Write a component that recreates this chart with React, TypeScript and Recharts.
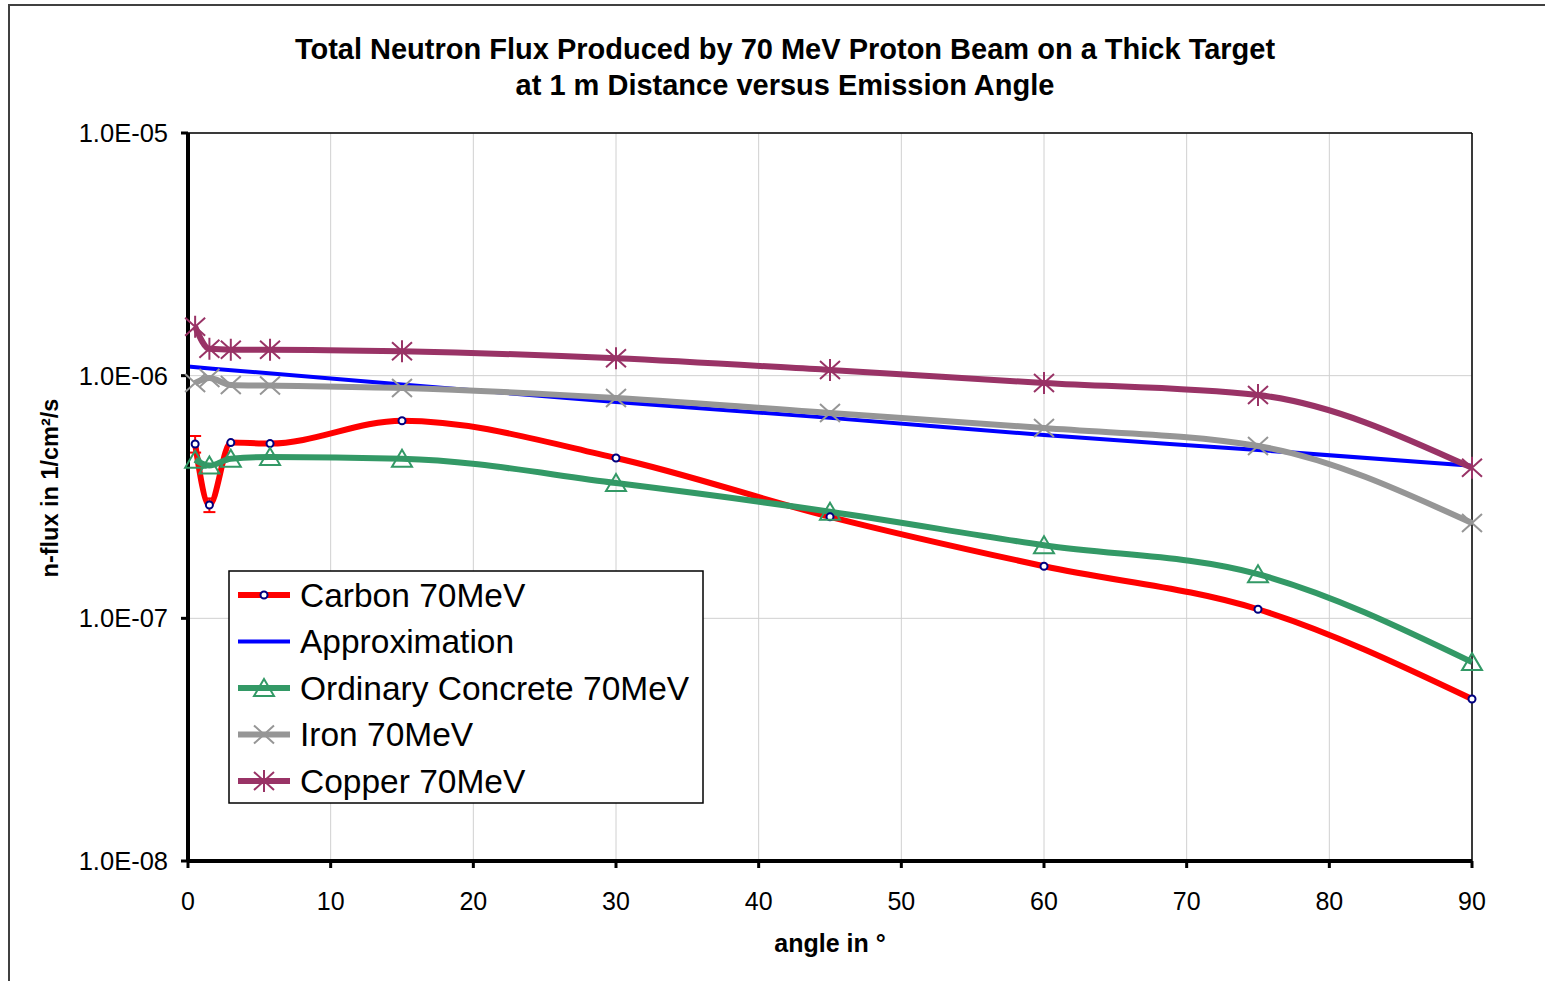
import React from 'react'
import {
  LineChart,
  Line,
  XAxis,
  YAxis,
  CartesianGrid,
  ErrorBar,
  ReferenceLine,
} from 'recharts'

const angles = [0.5, 1.5, 3, 5.75, 15, 30, 45, 60, 75, 90]
const carbon = [5.23e-7, 2.93e-7, 5.3e-7, 5.25e-7, 6.52e-7, 4.58e-7, 2.62e-7, 1.64e-7, 1.09e-7, 4.65e-8]
const carbonErr = [4.1e-8, 1.9e-8, 0, 0, 0, 0, 0, 0, 0, 0]
const concrete = [4.5e-7, 4.26e-7, 4.55e-7, 4.62e-7, 4.55e-7, 3.61e-7, 2.75e-7, 2.0e-7, 1.52e-7, 6.6e-8]
const iron = [9.33e-7, 9.78e-7, 9.16e-7, 9.1e-7, 8.89e-7, 8.09e-7, 7.02e-7, 6.08e-7, 5.13e-7, 2.47e-7]
const copper = [1.59e-6, 1.29e-6, 1.28e-6, 1.28e-6, 1.26e-6, 1.18e-6, 1.055e-6, 9.33e-7, 8.32e-7, 4.17e-7]

const approxAngles = [0, 15, 30, 45, 60, 75, 90]
const approx = [1.09e-6, 9.2e-7, 7.79e-7, 6.7e-7, 5.69e-7, 4.94e-7, 4.25e-7]

const xTicks = [0, 10, 20, 30, 40, 50, 60, 70, 80, 90]
const yTicks = [1e-8, 1e-7, 1e-6, 1e-5]

const FONT = '"Liberation Sans", Arial, sans-serif'

const C_RED = '#FF0000'
const C_BLUE = '#0000FF'
const C_GREEN = '#339966'
const C_GRAY = '#969696'
const C_PURPLE = '#993366'

const measured = angles.map((a, i) => ({
  x: a,
  carbon: carbon[i],
  err: carbonErr[i],
  concrete: concrete[i],
  iron: iron[i],
  copper: copper[i],
}))
const approxData = approxAngles.map((a, i) => ({ x: a, approx: approx[i] }))

const fmtExp = (v: number) => {
  const e = Math.round(Math.log10(v))
  const s = Math.abs(e).toString().padStart(2, '0')
  return `1.0E${e < 0 ? '-' : '+'}${s}`
}

// marker shapes
const Circle = ({ cx, cy }: { cx: number; cy: number }) => (
  <circle cx={cx} cy={cy} r={3.5} fill="#fff" stroke="#000080" strokeWidth={2} />
)
const Triangle = ({ cx, cy }: { cx: number; cy: number }) => (
  <path d={`M${cx},${cy - 9} L${cx + 10},${cy + 8} L${cx - 10},${cy + 8} Z`} fill="none" stroke={C_GREEN} strokeWidth={2} />
)
const Cross = ({ cx, cy }: { cx: number; cy: number }) => (
  <path d={`M${cx - 10},${cy - 9} L${cx + 10},${cy + 9} M${cx + 10},${cy - 9} L${cx - 10},${cy + 9}`} stroke={C_GRAY} strokeWidth={2} />
)
const Star = ({ cx, cy }: { cx: number; cy: number }) => (
  <path
    d={`M${cx - 10},${cy - 9} L${cx + 10},${cy + 9} M${cx + 10},${cy - 9} L${cx - 10},${cy + 9} M${cx},${cy - 11} L${cx},${cy + 11}`}
    stroke={C_PURPLE}
    strokeWidth={2}
  />
)

const dotOf = (Shape: React.FC<{ cx: number; cy: number }>) => (p: any) =>
  p.cx == null || p.cy == null ? <g key={p.index} /> : (
    <g key={p.index}>
      <Shape cx={p.cx} cy={p.cy} />
    </g>
  )

const legendItems = [
  { name: 'Carbon 70MeV', color: C_RED, width: 6, Shape: Circle },
  { name: 'Approximation', color: C_BLUE, width: 4, Shape: null },
  { name: 'Ordinary Concrete 70MeV', color: C_GREEN, width: 6, Shape: Triangle },
  { name: 'Iron 70MeV', color: C_GRAY, width: 6, Shape: Cross },
  { name: 'Copper 70MeV', color: C_PURPLE, width: 6, Shape: Star },
]

function LegendBox() {
  return (
    <svg width={476} height={234} style={{ position: 'absolute', left: 228, top: 570 }}>
      <rect x={1} y={1} width={474} height={232} fill="#fff" stroke="#000" strokeWidth={1.5} />
      {legendItems.map((it, i) => {
        const y = 25 + i * 46.5
        const S = it.Shape
        return (
          <g key={it.name}>
            <line x1={10} x2={62} y1={y} y2={y} stroke={it.color} strokeWidth={it.width} />
            {S && <S cx={36} cy={y} />}
            <text x={72} y={y} dominantBaseline="central" fontFamily={FONT} fontSize={33.5} fill="#000">
              {it.name}
            </text>
          </g>
        )
      })}
    </svg>
  )
}

export default function App() {
  return (
    <div
      style={{
        position: 'absolute',
        left: 0,
        top: 0,
        width: 1545,
        height: 981,
        overflow: 'hidden',
        background: '#fff',
        fontFamily: FONT,
      }}
    >
      <div
        style={{
          position: 'absolute',
          left: 8,
          top: 4,
          width: 1537,
          height: 977,
          borderTop: '2px solid #404040',
          borderLeft: '2px solid #404040',
        }}
      />
      <div
        style={{
          position: 'absolute',
          left: 185,
          width: 1200,
          top: 31,
          textAlign: 'center',
          fontWeight: 'bold',
          fontSize: 29,
          lineHeight: '36px',
          color: '#000',
        }}
      >
        Total Neutron Flux Produced by 70 MeV Proton Beam on a Thick Target
        <br />
        at 1 m Distance versus Emission Angle
      </div>

      <LineChart
        width={1545}
        height={981}
        margin={{ top: 133, right: 73, left: 88, bottom: 80 }}
        style={{ position: 'absolute', left: 0, top: 0 }}
      >
        <CartesianGrid stroke="#d0d0d0" strokeWidth={1} />
        <XAxis
          type="number"
          dataKey="x"
          domain={[0, 90]}
          ticks={xTicks}
          interval={0}
          height={40}
          axisLine={{ stroke: '#000', strokeWidth: 4 }}
          tickLine={{ stroke: '#000', strokeWidth: 3 }}
          tickSize={7}
          tickMargin={24}
          tick={{ fill: '#000', fontSize: 25, fontFamily: FONT }}
        />
        <YAxis
          scale="log"
          domain={[1e-8, 1e-5]}
          ticks={yTicks}
          interval={0}
          width={100}
          tickFormatter={fmtExp}
          axisLine={{ stroke: '#000', strokeWidth: 4 }}
          tickLine={{ stroke: '#000', strokeWidth: 3 }}
          tickSize={7}
          tickMargin={13}
          tick={{ fill: '#000', fontSize: 25.5, fontFamily: FONT }}
        />
        <ReferenceLine y={1e-5} stroke="#000" strokeWidth={1.5} />
        <ReferenceLine x={90} stroke="#000" strokeWidth={1.5} />

        <Line
          data={measured}
          dataKey="carbon"
          type="monotone"
          stroke={C_RED}
          strokeWidth={6}
          dot={dotOf(Circle)}
          activeDot={false}
          isAnimationActive={false}
        >
          <ErrorBar dataKey="err" direction="y" width={6} stroke={C_RED} strokeWidth={2} isAnimationActive={false} />
        </Line>
        <Line
          data={approxData}
          dataKey="approx"
          type="monotone"
          stroke={C_BLUE}
          strokeWidth={4}
          dot={false}
          activeDot={false}
          isAnimationActive={false}
        />
        <Line
          data={measured}
          dataKey="concrete"
          type="monotone"
          stroke={C_GREEN}
          strokeWidth={6}
          dot={dotOf(Triangle)}
          activeDot={false}
          isAnimationActive={false}
        />
        <Line
          data={measured}
          dataKey="iron"
          type="monotone"
          stroke={C_GRAY}
          strokeWidth={6}
          dot={dotOf(Cross)}
          activeDot={false}
          isAnimationActive={false}
        />
        <Line
          data={measured}
          dataKey="copper"
          type="monotone"
          stroke={C_PURPLE}
          strokeWidth={6}
          dot={dotOf(Star)}
          activeDot={false}
          isAnimationActive={false}
        />
      </LineChart>

      <LegendBox />

      <div
        style={{
          position: 'absolute',
          left: 630,
          width: 400,
          top: 929,
          textAlign: 'center',
          fontWeight: 'bold',
          fontSize: 25,
          color: '#000',
        }}
      >
        angle in °
      </div>
      <div
        style={{
          position: 'absolute',
          left: 50,
          top: 488,
          transform: 'translate(-50%, -50%) rotate(-90deg)',
          whiteSpace: 'nowrap',
          fontWeight: 'bold',
          fontSize: 23.5,
          color: '#000',
        }}
      >
        n-flux in 1/cm²/s
      </div>
    </div>
  )
}
